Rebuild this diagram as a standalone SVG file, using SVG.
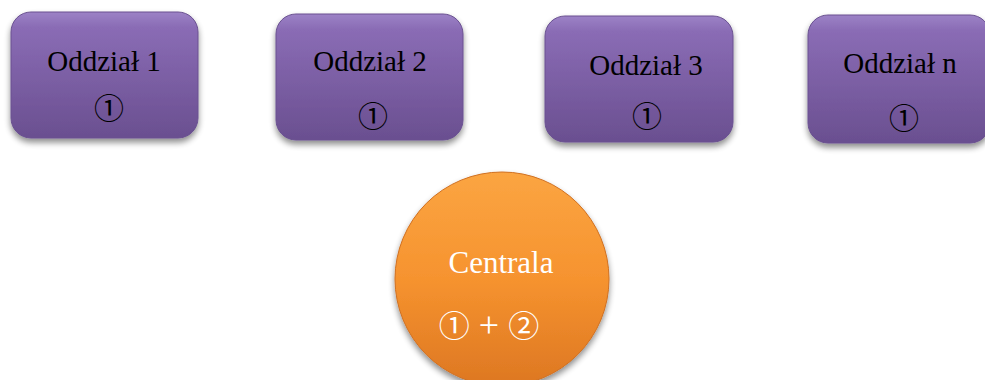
<svg xmlns="http://www.w3.org/2000/svg" width="985" height="380" viewBox="0 0 985 380">
<defs>
<linearGradient id="gp" x1="0" y1="0" x2="0" y2="1">
<stop offset="0" stop-color="#9c82c6"/>
<stop offset="0.12" stop-color="#8a6cb5"/>
<stop offset="1" stop-color="#6a4f90"/>
</linearGradient>
<linearGradient id="go" x1="0" y1="0" x2="0" y2="1">
<stop offset="0" stop-color="#fba542"/>
<stop offset="0.5" stop-color="#f6932f"/>
<stop offset="1" stop-color="#dd7722"/>
</linearGradient>
<filter id="sh" x="-20%" y="-20%" width="140%" height="150%">
<feGaussianBlur in="SourceAlpha" stdDeviation="3"/>
<feOffset dy="4" result="b"/>
<feComponentTransfer><feFuncA type="linear" slope="0.45"/></feComponentTransfer>
<feMerge><feMergeNode/><feMergeNode in="SourceGraphic"/></feMerge>
</filter>
<style>
.box{fill:url(#gp);stroke:#6a5190;stroke-width:1;filter:url(#sh)}
.circ{fill:url(#go);stroke:#d07020;stroke-width:1;filter:url(#sh)}
.t{font-family:"Liberation Serif","DejaVu Serif",serif;font-size:29px;fill:#000;text-anchor:middle}
.c{font-family:"Noto Sans CJK JP","Noto Sans CJK SC",sans-serif;font-size:30px;fill:#000;text-anchor:middle}
.w{fill:#fff}
</style>
</defs>
<g id="connectors"></g>
<g id="oddzial1">
<rect class="box" x="11" y="12" width="187" height="126" rx="20"/>
<text class="t" x="104" y="71">Oddział 1</text>
<text class="c" x="109" y="119">①</text>
</g>
<g id="oddzial2">
<rect class="box" x="276" y="14" width="187" height="126" rx="20"/>
<text class="t" x="370" y="71">Oddział 2</text>
<text class="c" x="373" y="127">①</text>
</g>
<g id="oddzial3">
<rect class="box" x="545" y="16" width="188" height="126" rx="20"/>
<text class="t" x="646" y="75">Oddział 3</text>
<text class="c" x="647" y="127">①</text>
</g>
<g id="oddzialn">
<rect class="box" x="808" y="15" width="182" height="128" rx="20"/>
<text class="t" x="900" y="73">Oddział n</text>
<text class="c" x="904" y="129">①</text>
</g>
<g id="centrala">
<circle class="circ" cx="502" cy="279" r="107"/>
<text class="t w" x="501" y="273" style="font-size:31px">Centrala</text>
<text class="c w" x="489" y="337" style="font-size:31px">①<tspan font-family="Liberation Serif" font-size="36"> + </tspan>②</text>
</g>
</svg>
